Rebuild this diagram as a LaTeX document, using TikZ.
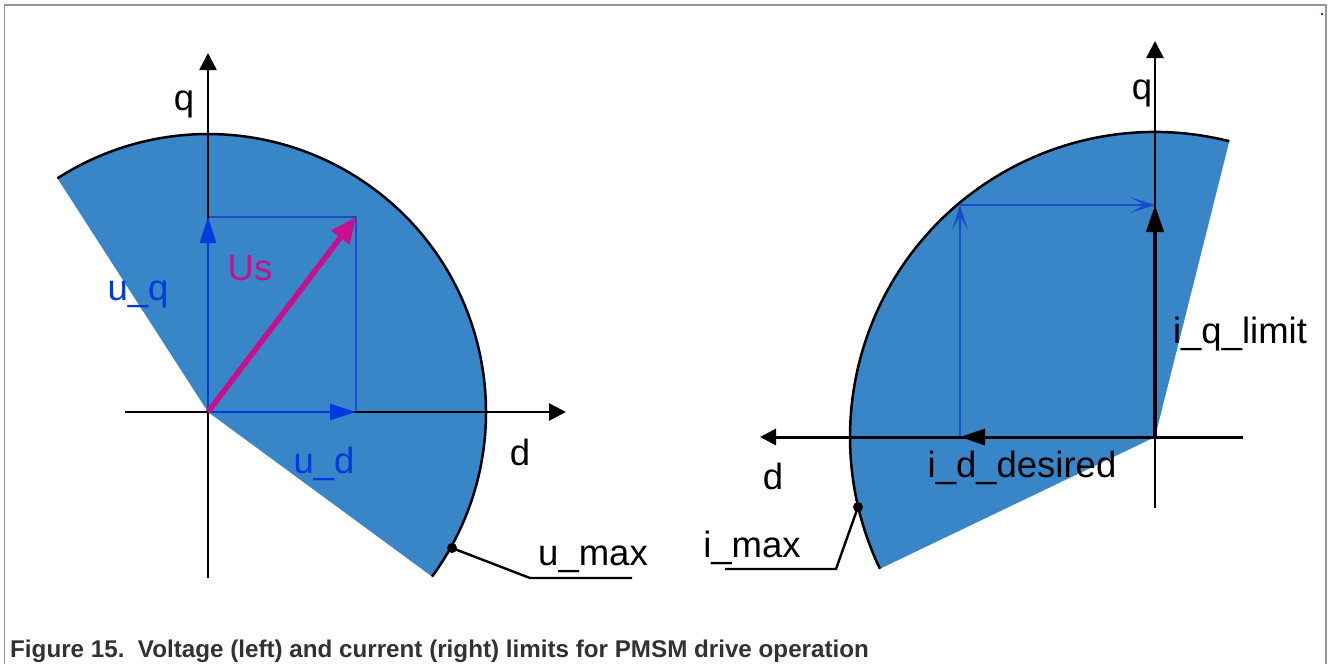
\documentclass[tikz,border=0pt]{standalone}
\usepackage{fontspec}
\setmainfont{Liberation Sans}
\usetikzlibrary{arrows.meta}
\definecolor{sectorblue}{RGB}{56,134,199}
\definecolor{vecblue}{RGB}{0,58,220}
\definecolor{thinblue}{RGB}{25,75,205}
\definecolor{usmag}{RGB}{200,16,140}
\definecolor{capgray}{RGB}{50,50,50}
\definecolor{framegray}{RGB}{150,150,150}
\begin{document}
\begin{tikzpicture}[x=1pt,y=-1pt,
  lbl/.style={anchor=base, inner sep=0pt, font=\fontsize{36.5}{40}\selectfont},
  axisarrow/.style={line width=2.6pt, -{Triangle[length=17pt,width=17pt]}},
  rimline/.style={line width=2.5pt, black},
  thinline/.style={line width=1.4pt, thinblue},
  thinarrow/.style={line width=1.5pt, thinblue, -{Stealth[length=25pt,width=16pt,inset=14pt]}},
  vecarrow/.style={line width=2.8pt, vecblue, -{Triangle[length=26pt,width=16pt]}},
  leader/.style={line width=2.4pt, black},
  dotmark/.style={circle, fill=black, inner sep=0pt, minimum size=10pt}]
\useasboundingbox (0,0) rectangle (1328,664);
% frame
\draw[framegray, line width=1.4pt] (4.5,664) -- (4.5,5) -- (1326,5) -- (1326,664);
\fill[vecblue] (1321,13) rectangle (1323,15);

% ---------- left diagram ----------
\coordinate (OL) at (208,412);
\coordinate (UD) at (356,412);
\coordinate (UQ) at (208,217);
\coordinate (US) at (356,217);
\coordinate (QLb) at (208,578);
\coordinate (QLt) at (208,53);
\coordinate (DLa) at (125,412);
\coordinate (DLb) at (566,412);
\fill[sectorblue] (OL) -- ++(36.3:278) arc[start angle=36.3, end angle=-122.8, radius=278] -- cycle;
\draw[rimline] (OL) ++(36.3:278) arc[start angle=36.3, end angle=-122.8, radius=278];
\draw[thinline] (UQ) -- (US) -- (UD);
\draw[axisarrow] (QLb) -- (QLt);
\draw[axisarrow] (DLa) -- (DLb);
\draw[vecarrow] (OL) -- (UD);
\draw[vecarrow] (OL) -- (UQ);
\draw[usmag, line width=5.5pt, -{Triangle[length=26pt,width=22pt]}] (OL) -- (US);
\node[lbl] (lq) at (184,110) {q};
\node[lbl, text=vecblue] (luq) at (138,300) {u\_q};
\node[lbl, text=usmag] (lus) at (250,280) {Us};
\node[lbl, text=vecblue] (lud) at (324,473) {u\_d};
\node[lbl] (ld) at (520,465) {d};
\node[lbl] (lumax) at (593,565) {u\_max};
\node[dotmark] (dumax) at (452,548) {};
\coordinate (kumax) at (530,578);
\coordinate (eumax) at (632,578);
\draw[leader] (dumax.center) -- (kumax) -- (eumax);

% ---------- right diagram ----------
\coordinate (OR) at (1155,437);
\coordinate (ID) at (960,437);
\coordinate (IC) at (960,205);
\coordinate (IQ) at (1155,205);
\coordinate (QRb) at (1155,508);
\coordinate (QRt) at (1155,41);
\coordinate (DRa) at (1243,437);
\coordinate (DRb) at (760,437);
\fill[sectorblue] (OR) -- ++(-75.9:305) arc[start angle=-75.9, end angle=-205.6, radius=305] -- cycle;
\draw[rimline] (OR) ++(-75.9:305) arc[start angle=-75.9, end angle=-205.6, radius=305];
\draw[thinarrow] (ID) -- (IC);
\draw[thinarrow] (IC) -- (IQ);
\draw[axisarrow] (QRb) -- (QRt);
\draw[line width=3pt, -{Triangle[length=16pt,width=16pt]}] (DRa) -- (DRb);
\draw[line width=4.5pt, -{Triangle[length=27pt,width=17pt]}] (OR) -- (IQ);
\draw[line width=3pt, -{Triangle[length=25pt,width=16pt]}] (OR) -- (ID);
\node[lbl] (rq) at (1142,99) {q};
\node[lbl] (rd) at (773,489) {d};
\node[lbl] (lidd) at (1022,477) {i\_d\_desired};
\node[lbl] (liql) at (1240,343) {i\_q\_limit};
\node[lbl] (limax) at (752,557) {i\_max};
\node[dotmark] (dimax) at (858,507) {};
\coordinate (kimax) at (836,569);
\coordinate (eimax) at (725,569);
\draw[leader] (dimax.center) -- (kimax) -- (eimax);

% caption
\node[anchor=base west, inner sep=0pt, text=capgray, font=\fontsize{24.2}{28}\selectfont\bfseries] (cap) at (10,657) {Figure 15.\ \ Voltage (left) and current (right) limits for PMSM drive operation};
\end{tikzpicture}
\end{document}
